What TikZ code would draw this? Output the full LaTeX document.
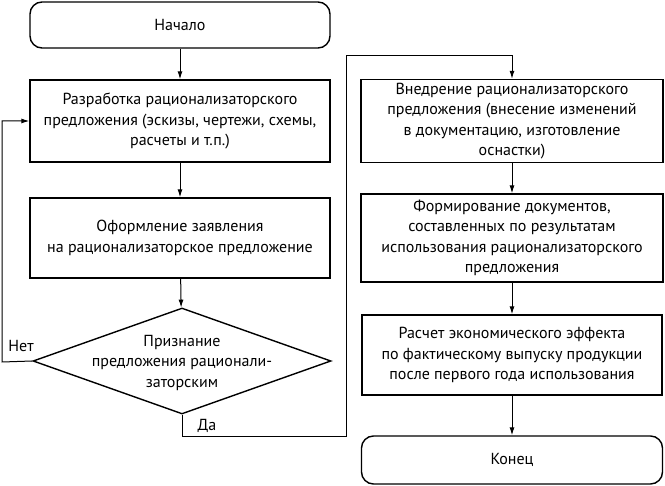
\documentclass[tikz,border=0pt]{standalone}
\usepackage{fontspec}
\setmainfont{PT Sans}
\usetikzlibrary{arrows.meta,shapes.geometric}
\begin{document}
\begin{tikzpicture}[x=1pt,y=-1pt,
  box/.style={draw,line width=1.4pt,minimum width=300pt,align=center,
    font=\fontsize{16}{20.5}\selectfont},
  term/.style={box,rounded corners=12pt,minimum height=46pt},
  decision/.style={draw,diamond,aspect=2.8,line width=1.4pt,inner sep=0pt,
    minimum width=298pt,minimum height=106pt,font=\fontsize{16}{20.5}\selectfont},
  link/.style={line width=1pt,-{Latex[length=8pt,width=5pt]}}]
\useasboundingbox (0,0) rectangle (665,486);
% left column
\node[term] (start) at (180,25) {Начало};
\node[box,minimum height=82pt] (dev) at (180,121)
  {Разработка рационализаторского\\предложения (эскизы, чертежи, схемы,\\расчеты и т.п.)};
\node[box,minimum height=80pt] (form) at (180,238)
  {Оформление заявления\\на рационализаторское предложение};
\node[decision] (dec) at (182,361)
  {\smash{\lower6pt\hbox{\begin{tabular}{@{}c@{}}Признание\\предложения рационали-\\заторским\end{tabular}}}};
% right column
\node[box,minimum width=302pt,minimum height=82pt] (impl) at (512,121)
  {Внедрение рационализаторского\\предложения (внесение изменений\\в документацию, изготовление\\оснастки)};
\node[box,minimum width=302pt,minimum height=88pt] (docs) at (512,238)
  {Формирование документов,\\составленных по результатам\\использования рационализаторского\\предложения};
\node[box,minimum height=80pt] (calc) at (512,355)
  {Расчет экономического эффекта\\по фактическому выпуску продукции\\после первого года использования};
\node[term,minimum width=301pt,minimum height=48pt] (finish) at (512,460) {Конец};
% connectors
\draw[link] (start) -- (dev);
\draw[link] (dev) -- (form);
\draw[link] (form) -- (dec);
\coordinate (no) at (2,362);
\draw[link] (dec.west) -- (no) |- (dev.west);
\node[font=\fontsize{16}{20}\selectfont] (nolabel) at (21,346) {Нет};
\coordinate (yes1) at (346,437);
\coordinate (yes2) at (346,56);
\draw[link] (dec.south) |- (yes1) -- (yes2) -| (impl.north);
\node[font=\fontsize{16}{20}\selectfont] (yeslabel) at (207,426) {Да};
\draw[link] (impl) -- (docs);
\draw[link] (docs) -- (calc);
\draw[link] (calc) -- (finish);
\end{tikzpicture}
\end{document}
